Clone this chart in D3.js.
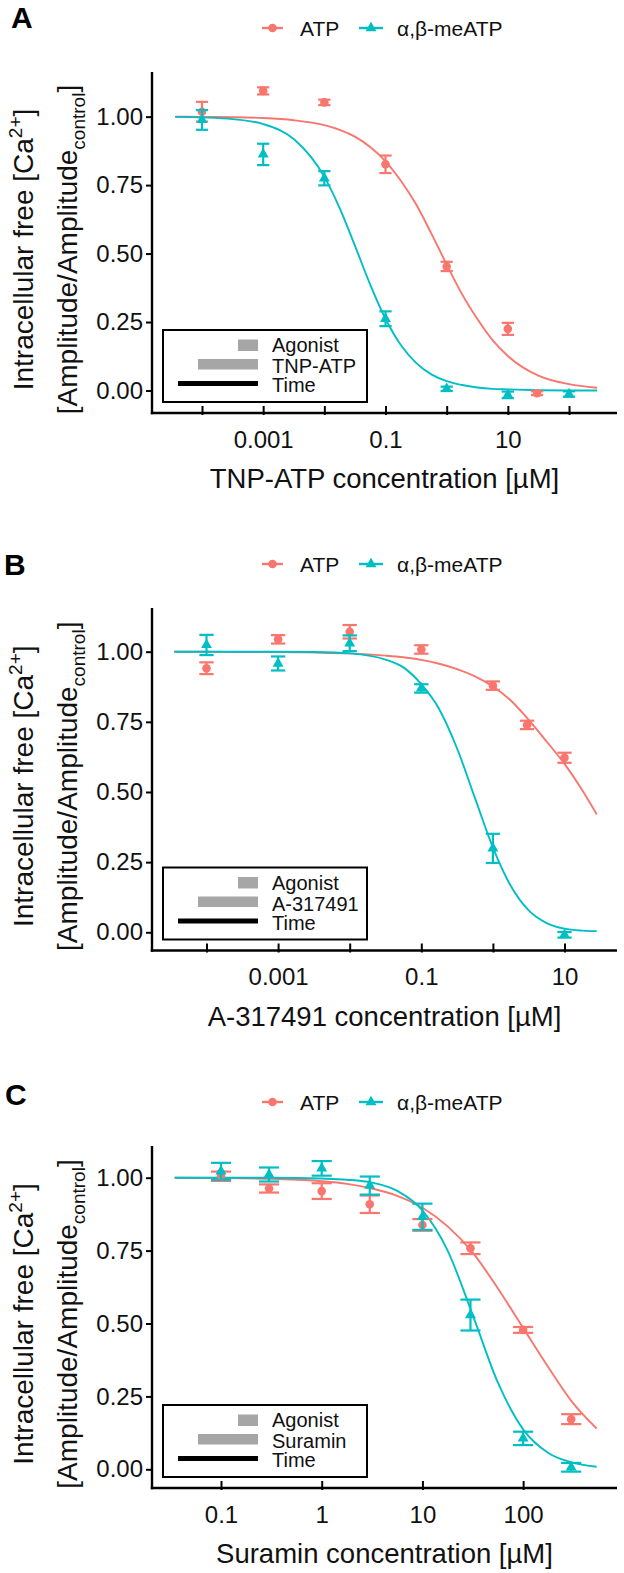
<!DOCTYPE html>
<html><head><meta charset="utf-8">
<script src="https://cdn.jsdelivr.net/npm/d3@7"></script>
<style>
html,body{margin:0;padding:0;background:#fff;}
svg{display:block;font-family:"Liberation Sans",Arial,sans-serif;}
</style></head><body>
<svg id="chart" width="624" height="1573"></svg>
<script>
// ---------- shared ----------
const seriesNames = ["ATP", "α,β-meATP"];
const seriesColors = ["#F8766D", "#00BFC4"];
const yTicks = [0, 0.25, 0.5, 0.75, 1];
const yTickLabels = ["0.00", "0.25", "0.50", "0.75", "1.00"];
const legendRows = ["Agonist", null, "Time"];

// ---------- panel A : TNP-ATP ----------
const concA_ATP = [1e-4, 1e-3, 1e-2, 0.1, 1, 10, 30];
const meanA_ATP = [1.018, 1.094, 1.052, 0.826, 0.453, 0.225, -0.010];
const seA_ATP   = [0.036, 0.013, 0.010, 0.032, 0.017, 0.022, 0.007];
const concA_me  = [1e-4, 1e-3, 1e-2, 0.1, 1, 10, 100];
const meanA_me  = [0.988, 0.862, 0.775, 0.262, 0.006, -0.016, -0.013];
const seA_me    = [0.036, 0.039, 0.026, 0.027, 0.008, 0.012, 0.010];
const fitConcA  = [3.63e-5, 1e-4, 3.16e-4, 1e-3, 3.16e-3, 0.01, 0.0178, 0.0316, 0.0562, 0.1, 0.178, 0.316, 0.562, 1, 1.78, 3.16, 5.62, 10, 31.6, 100, 288];
const fitA_ATP  = [1.000, 0.999, 0.998, 0.995, 0.987, 0.969, 0.952, 0.927, 0.889, 0.837, 0.766, 0.680, 0.573, 0.460, 0.352, 0.262, 0.184, 0.126, 0.054, 0.023, 0.010];
const fitA_me   = [0.999, 0.997, 0.991, 0.973, 0.918, 0.780, 0.666, 0.529, 0.387, 0.262, 0.166, 0.101, 0.059, 0.034, 0.020, 0.011, 0.006, 0.004, 0.001, 0.000, 0.000];
const xTicksA   = [1e-4, 1e-3, 1e-2, 0.1, 1, 10, 100];
const xLabelsA  = ["", "0.001", "", "0.1", "", "10", ""];
const xTitleA   = "TNP-ATP concentration [µM]";
const agonistA  = "TNP-ATP";

// ---------- panel B : A-317491 ----------
const concB_ATP = [1e-4, 1e-3, 1e-2, 0.1, 1, 3, 10];
const meanB_ATP = [0.941, 1.044, 1.071, 1.008, 0.879, 0.739, 0.622];
const seB_ATP   = [0.021, 0.015, 0.024, 0.015, 0.015, 0.015, 0.018];
const concB_me  = [1e-4, 1e-3, 1e-2, 0.1, 1, 10];
const meanB_me  = [1.024, 0.958, 1.030, 0.869, 0.299, -0.009];
const seB_me    = [0.036, 0.025, 0.028, 0.015, 0.052, 0.010];
const fitConcB  = [3.55e-5, 1e-4, 3.16e-4, 1e-3, 3.16e-3, 0.01, 0.0316, 0.0562, 0.1, 0.178, 0.316, 0.562, 1, 1.78, 3.16, 5.62, 10, 17.8, 28.2];
const fitB_ATP  = [1.000, 1.000, 0.999, 0.999, 0.997, 0.994, 0.986, 0.980, 0.971, 0.957, 0.938, 0.912, 0.876, 0.826, 0.757, 0.680, 0.600, 0.505, 0.420];
const fitB_me   = [1.000, 1.000, 1.000, 1.000, 0.999, 0.994, 0.972, 0.944, 0.884, 0.795, 0.655, 0.478, 0.302, 0.165, 0.078, 0.033, 0.013, 0.006, 0.004];
const xTicksB   = [1e-4, 1e-3, 1e-2, 0.1, 1, 10];
const xLabelsB  = ["", "0.001", "", "0.1", "", "10"];
const xTitleB   = "A-317491 concentration [µM]";
const agonistB  = "A-317491";

// ---------- panel C : Suramin ----------
const concC_ATP = [0.1, 0.3, 1, 3, 10, 30, 100, 300];
const meanC_ATP = [1.005, 0.963, 0.954, 0.909, 0.838, 0.758, 0.478, 0.172];
const seC_ATP   = [0.016, 0.014, 0.027, 0.030, 0.020, 0.020, 0.010, 0.017];
const concC_me  = [0.1, 0.3, 1, 3, 10, 30, 100, 300];
const meanC_me  = [1.022, 1.011, 1.032, 0.973, 0.866, 0.529, 0.106, 0.007];
const seC_me    = [0.029, 0.024, 0.025, 0.031, 0.045, 0.053, 0.023, 0.015];
const fitConcC  = [0.0347, 0.1, 0.316, 1, 1.78, 3.16, 5.62, 10, 17.8, 31.6, 56.2, 100, 178, 316, 537];
const fitC_ATP  = [1.000, 0.999, 0.996, 0.988, 0.979, 0.963, 0.938, 0.897, 0.833, 0.743, 0.620, 0.485, 0.350, 0.225, 0.140];
const fitC_me   = [1.000, 1.000, 1.000, 0.997, 0.993, 0.983, 0.955, 0.888, 0.750, 0.529, 0.297, 0.137, 0.056, 0.022, 0.009];
const xTicksC   = [0.1, 1, 10, 100];
const xLabelsC  = ["0.1", "1", "10", "100"];
const xTitleC   = "Suramin concentration [µM]";
const agonistC  = "Suramin";

// ---------- layout ----------
const FONT = "'Liberation Sans', Arial, sans-serif";
const L = 152, R = 617;
const panels = [
  {letter:"A", lx:11, ly:28, top:72, axisY:413, xExp:[-4.8174, 2.7844], yDom:[-0.0822, 1.163],
   series:[[concA_ATP, meanA_ATP, seA_ATP, fitA_ATP], [concA_me, meanA_me, seA_me, fitA_me]],
   fitConc:fitConcA, xTicks:xTicksA, xLabels:xLabelsA, xTitle:xTitleA, agonist:agonistA},
  {letter:"B", lx:4, ly:575, top:608, axisY:950.5, xExp:[-4.761, 1.733], yDom:[-0.0649, 1.1557],
   series:[[concB_ATP, meanB_ATP, seB_ATP, fitB_ATP], [concB_me, meanB_me, seB_me, fitB_me]],
   fitConc:fitConcB, xTicks:xTicksB, xLabels:xLabelsB, xTitle:xTitleB, agonist:agonistB},
  {letter:"C", lx:5, ly:1105, top:1146, axisY:1488, xExp:[-1.685, 2.932], yDom:[-0.0641, 1.1087],
   series:[[concC_ATP, meanC_ATP, seC_ATP, fitC_ATP], [concC_me, meanC_me, seC_me, fitC_me]],
   fitConc:fitConcC, xTicks:xTicksC, xLabels:xLabelsC, xTitle:xTitleC, agonist:agonistC}
];

const svg = d3.select("#chart");
const triangle = d3.symbol().type(d3.symbolTriangle).size(52);

function drawPoint(sel, i, cx, cy) {
  if (i === 0) {
    sel.append("circle").attr("cx", cx).attr("cy", cy).attr("r", 4.3).attr("fill", seriesColors[0]);
  } else {
    sel.append("path").attr("d", triangle).attr("transform", `translate(${cx},${cy})`).attr("fill", seriesColors[1]);
  }
}

panels.forEach(p => {
  const g = svg.append("g");
  const x = d3.scaleLog().domain([Math.pow(10, p.xExp[0]), Math.pow(10, p.xExp[1])]).range([L, R]);
  const y = d3.scaleLinear().domain(p.yDom).range([p.axisY, p.top]);

  // panel letter
  g.append("text").attr("x", p.lx).attr("y", p.ly).attr("font-size", 30).attr("font-weight", "bold")
    .attr("font-family", FONT).text(p.letter);

  // top legend
  const ly = p.top - 44;
  const legPos = [{x1:262, x2:283, cx:272.5, tx:300}, {x1:359, x2:383, cx:371, tx:397}];
  seriesNames.forEach((name, i) => {
    const lp = legPos[i];
    g.append("line").attr("x1", lp.x1).attr("x2", lp.x2).attr("y1", ly).attr("y2", ly)
      .attr("stroke", seriesColors[i]).attr("stroke-width", 2.4);
    drawPoint(g, i, lp.cx, ly);
    g.append("text").attr("x", lp.tx).attr("y", ly + 7.5).attr("font-size", 21).attr("font-family", FONT)
      .attr("fill", "#111").text(name);
  });

  // axes
  const ya = g.append("g").attr("transform", `translate(${L},0)`)
    .call(d3.axisLeft(y).tickValues(yTicks).tickFormat((d) => yTickLabels[yTicks.indexOf(d)])
      .tickSizeInner(6).tickSizeOuter(0).tickPadding(3));
  ya.select(".domain").remove();
  ya.attr("font-size", 24).attr("font-family", FONT);
  ya.selectAll(".tick line").attr("stroke", "#000").attr("stroke-width", 2);
  ya.selectAll(".tick text").attr("fill", "#111");

  const xa = g.append("g").attr("transform", `translate(0,${p.axisY})`)
    .call(d3.axisBottom(x).tickValues(p.xTicks).tickFormat((d) => p.xLabels[p.xTicks.indexOf(d)])
      .tickSizeInner(-7).tickSizeOuter(0).tickPadding(17.5));
  xa.select(".domain").remove();
  xa.attr("font-size", 24).attr("font-family", FONT);
  xa.selectAll(".tick line").attr("y1", 2).attr("stroke", "#000").attr("stroke-width", 2);
  xa.selectAll(".tick text").attr("fill", "#111");

  g.append("line").attr("x1", L).attr("x2", L).attr("y1", p.top).attr("y2", p.axisY + 1.2)
    .attr("stroke", "#000").attr("stroke-width", 2.4);
  g.append("line").attr("x1", L - 1.2).attr("x2", R).attr("y1", p.axisY).attr("y2", p.axisY)
    .attr("stroke", "#000").attr("stroke-width", 2.4);

  // axis titles
  g.append("text").attr("x", (L + R) / 2).attr("y", p.axisY + 75).attr("text-anchor", "middle")
    .attr("font-size", 27.5).attr("font-family", FONT).attr("fill", "#111").text(p.xTitle);

  const cy = (p.top + p.axisY) / 2 + 7;
  const t1 = g.append("text").attr("transform", `translate(33,${cy}) rotate(-90)`).attr("text-anchor", "middle")
    .attr("font-size", 28).attr("font-family", FONT).attr("fill", "#111");
  t1.append("tspan").text("Intracellular free [Ca");
  t1.append("tspan").attr("font-size", 19).attr("dy", -11).text("2+");
  t1.append("tspan").attr("dy", 11).text("]");
  const t2 = g.append("text").attr("transform", `translate(77,${cy}) rotate(-90)`).attr("text-anchor", "middle")
    .attr("font-size", 28).attr("font-family", FONT).attr("fill", "#111");
  t2.append("tspan").text("[Amplitude/Amplitude");
  t2.append("tspan").attr("font-size", 19).attr("dy", 8).text("control");
  t2.append("tspan").attr("dy", -8).text("]");

  // fitted curves
  const line = d3.line().x(d => x(d[0])).y(d => y(d[1])).curve(d3.curveMonotoneX);
  p.series.forEach((s, i) => {
    const pts = p.fitConc.map((c, k) => [c, s[3][k]]);
    g.append("path").attr("d", line(pts)).attr("fill", "none")
      .attr("stroke", seriesColors[i]).attr("stroke-width", 1.9);
  });

  // error bars + points
  const capHalf = Math.pow(10, 0.1);
  p.series.forEach((s, i) => {
    const col = seriesColors[i];
    s[0].forEach((c, k) => {
      const m = s[1][k], e = s[2][k];
      const eb = g.append("g").attr("stroke", col).attr("stroke-width", 2.2);
      eb.append("line").attr("x1", x(c)).attr("x2", x(c)).attr("y1", y(m - e)).attr("y2", y(m + e));
      [m - e, m + e].forEach(v => {
        eb.append("line").attr("x1", x(c / capHalf)).attr("x2", x(c * capHalf)).attr("y1", y(v)).attr("y2", y(v));
      });
      drawPoint(g, i, x(c), y(m));
    });
  });

  // inner legend box
  const bt = p.axisY - 83;
  g.append("rect").attr("x", 163).attr("y", bt).attr("width", 204).attr("height", 72)
    .attr("fill", "#fff").attr("stroke", "#000").attr("stroke-width", 2);
  g.append("rect").attr("x", 238).attr("y", bt + 9.5).attr("width", 20).attr("height", 11.5).attr("fill", "#A6A6A6");
  g.append("rect").attr("x", 198).attr("y", bt + 29).attr("width", 60).attr("height", 10.5).attr("fill", "#A6A6A6");
  g.append("line").attr("x1", 178).attr("x2", 258).attr("y1", bt + 53.5).attr("y2", bt + 53.5)
    .attr("stroke", "#000").attr("stroke-width", 5);
  const rowsText = legendRows.map(r => r === null ? p.agonist : r);
  const baselines = [22, 43, 62];
  rowsText.forEach((t, k) => {
    g.append("text").attr("x", 272).attr("y", bt + baselines[k]).attr("font-size", 20)
      .attr("font-family", FONT).attr("fill", "#111").text(t);
  });
});
</script>
</body></html>
